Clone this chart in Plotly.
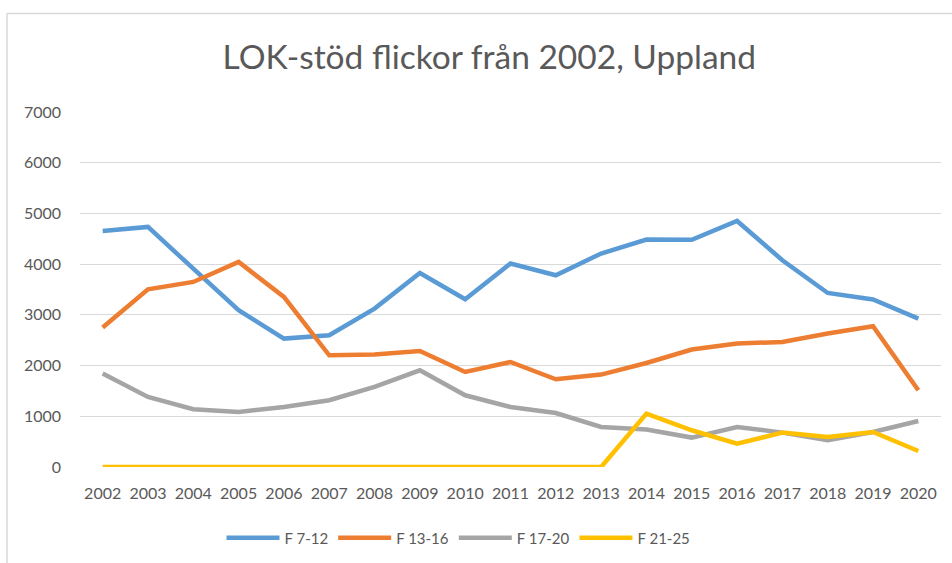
import plotly.graph_objects as go

years = [str(y) for y in range(2002, 2021)]
f_7_12 = [4655, 4734, 3910, 3091, 2532, 2598, 3124, 3826, 3308, 4012, 3781, 4209, 4485, 4480, 4852, 4077, 3432, 3302, 2927]
f_13_16 = [2749, 3505, 3649, 4043, 3353, 2203, 2217, 2288, 1874, 2071, 1730, 1822, 2051, 2316, 2434, 2466, 2631, 2775, 1512]
f_17_20 = [1842, 1381, 1138, 1085, 1183, 1316, 1578, 1907, 1414, 1183, 1065, 789, 738, 580, 789, 678, 527, 690, 907]
f_21_25 = [0, 0, 0, 0, 0, 0, 0, 0, 0, 0, 0, 0, 1053, 724, 461, 678, 592, 690, 316]

series_names = ["F 7-12", "F 13-16", "F 17-20", "F 21-25"]
series_values = [f_7_12, f_13_16, f_17_20, f_21_25]
colors = ["#5B9BD5", "#ED7D31", "#A5A5A5", "#FFC000"]

FONT = "Lato, 'Open Sans', sans-serif"
TXT = "#595959"

fig = go.Figure()
for name, vals, col in zip(series_names, series_values, colors):
    fig.add_trace(go.Scatter(x=years, y=vals, name=name, mode="lines",
                             line=dict(color=col, width=4.5)))

fig.update_layout(
    width=952, height=563,
    margin=dict(l=80, r=11, t=112, b=96, autoexpand=False),
    paper_bgcolor="white", plot_bgcolor="white",
    font=dict(family=FONT, size=16, color=TXT),
    title=dict(text="LOK-stöd flickor från 2002, Uppland", x=0.514, xref="container",
               xanchor="center", y=1 - 57 / 563, yref="container", yanchor="middle",
               font=dict(family=FONT, size=33.5, color=TXT)),
    showlegend=True,
    legend=dict(orientation="h", x=458.5 / 952, xref="container", xanchor="center",
                y=1 - 538 / 563, yref="container", yanchor="middle",
                font=dict(family=FONT, size=15, color=TXT), itemwidth=53,
                bgcolor="rgba(0,0,0,0)"),
    xaxis=dict(type="category", range=[-0.5, 18.5], showgrid=False, zeroline=False,
               showline=False, ticks="", ticklabelstandoff=15, automargin=False,
               tickfont=dict(family=FONT, size=16, color=TXT)),
    yaxis=dict(range=[0, 7000], dtick=1000, showgrid=True, gridcolor="#D9D9D9", gridwidth=1.3,
               zeroline=False, showline=False, ticks="", ticklabelstandoff=18, automargin=False,
               tickfont=dict(family=FONT, size=16, color=TXT)),
    shapes=[
        dict(type="line", xref="paper", yref="paper", x0=-0.0848, x1=-0.0848, y0=1.2775, y1=-0.35,
             line=dict(color="#D9D9D9", width=1.5)),
        dict(type="line", xref="paper", yref="paper", x0=-0.0848, x1=1.05, y0=1.2775, y1=1.2775,
             line=dict(color="#D9D9D9", width=1.5)),
    ],
)

fig.write_html("out.html", config={"displayModeBar": False},
               post_script="document.body.style.margin='0';document.body.style.padding='0';")
